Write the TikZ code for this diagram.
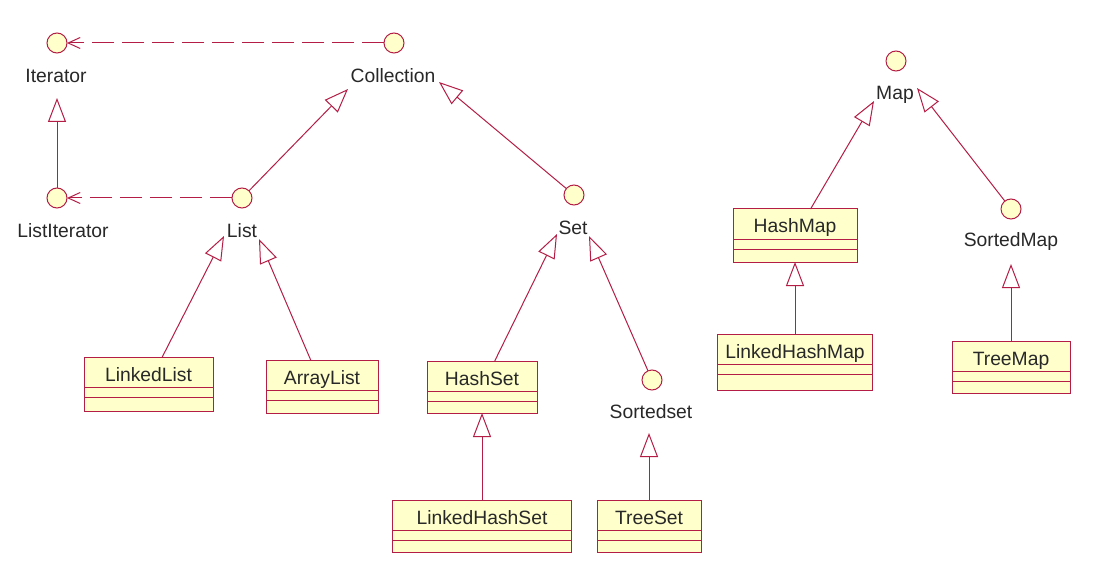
\documentclass[tikz,border=0pt]{standalone}
\usepackage{fontspec}
\setmainfont{Liberation Sans}
\usetikzlibrary{arrows.meta}
\definecolor{umlred}{RGB}{180,30,70}
\definecolor{umlfill}{RGB}{255,255,204}
\definecolor{umltext}{RGB}{40,40,40}
\tikzset{
  umlline/.style={draw=umlred, line width=1pt},
  iface/.style={circle, umlline, fill=umlfill, minimum size=20pt, inner sep=0pt, outer sep=0pt},
  cls/.style={rectangle, umlline, fill=umlfill, inner sep=0pt, outer sep=0pt},
  txt/.style={text=umltext, inner sep=0pt, font=\fontsize{19.3}{22}\selectfont},
  gen/.style={umlline, -{Triangle[open, length=24pt, width=18pt]}},
  dep/.style={umlline, dash pattern=on 22pt off 8pt, -{Straight Barb[length=12pt, width=11pt]}},
}
\newcommand\umlclass[6]{%
  \node[cls, minimum width=#4pt, minimum height=#5pt] (#1) at (#2,#3) {};
  \draw[umlline] ([yshift=-30pt]#1.north west) -- ([yshift=-30pt]#1.north east);
  \draw[umlline] ([yshift=-40pt]#1.north west) -- ([yshift=-40pt]#1.north east);
  \node[txt, anchor=base] (#1T) at ([yshift=-24pt]#1.north) {#6};}
\begin{document}
\begin{tikzpicture}[x=1pt, y=-1pt]
\useasboundingbox[fill=white] (0,0) rectangle (1100,572);

% interfaces
\node[iface] (it)  at (57,43) {};
\node[iface] (col) at (394,43) {};
\node[iface] (li)  at (57,198) {};
\node[iface] (ls)  at (242,198) {};
\node[iface] (st)  at (574,195) {};
\node[iface] (ss)  at (652,380) {};
\node[iface] (mp)  at (896,61) {};
\node[iface] (sm)  at (1011,209) {};

% interface labels
\node[txt, anchor=base] (itL)  at (56,83) {Iterator};
\node[txt, anchor=base] (colL) at (393,83) {Collection};
\node[txt, anchor=base] (liL)  at (63,237) {ListIterator};
\node[txt, anchor=base] (lsL)  at (242,237) {List};
\node[txt, anchor=base] (stL)  at (573,234) {Set};
\node[txt, anchor=base] (ssL)  at (651,418) {Sortedset};
\node[txt, anchor=base] (mpL)  at (895,100) {Map};
\node[txt, anchor=base] (smL)  at (1011,247) {SortedMap};

% classes
\umlclass{ll}{148.5}{384}{129}{54}{LinkedList}
\umlclass{al}{322}{386.5}{112}{53}{ArrayList}
\umlclass{hs}{482}{387}{110}{52}{HashSet}
\umlclass{lhs}{482}{526}{179}{52}{LinkedHashSet}
\umlclass{ts}{649}{526}{104}{52}{TreeSet}
\umlclass{hm}{795}{235.5}{124}{53}{HashMap}
\umlclass{lhm}{795}{362}{155}{56}{LinkedHashMap}
\umlclass{tm}{1011}{367}{118}{52}{TreeMap}

% arrow tip points (below the labels)
\coordinate (tLIt) at (57,98);
\coordinate (tLC)  at (348,89);
\coordinate (tSC)  at (439,82);
\coordinate (tLL)  at (224,236);
\coordinate (tAL)  at (259,239);
\coordinate (tHS)  at (557,234);
\coordinate (tSS)  at (589,236);
\coordinate (tTS)  at (649,433);
\coordinate (tHM)  at (874,101);
\coordinate (tSM)  at (917,88);
\coordinate (tTM)  at (1011,264);

% dependencies
\draw[dep] (col) -- (it);
\draw[dep] (ls) -- (li);

% generalizations
\draw[gen] (li) -- (tLIt);
\draw[gen] (ls) -- (tLC);
\draw[gen] (st) -- (tSC);
\draw[gen] (ll) -- (tLL);
\draw[gen] (al) -- (tAL);
\draw[gen] (hs) -- (tHS);
\draw[gen] (ss) -- (tSS);
\draw[gen] (lhs) -- (hs);
\draw[gen] (ts) -- (tTS);
\draw[gen] (hm) -- (tHM);
\draw[gen] (sm) -- (tSM);
\draw[gen] (lhm) -- (hm);
\draw[gen] (tm) -- (tTM);
\end{tikzpicture}
\end{document}
